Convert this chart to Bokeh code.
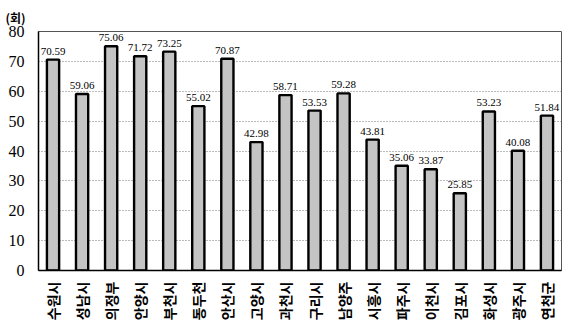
from bokeh.plotting import figure
from bokeh.models import ColumnDataSource, FixedTicker
from bokeh.core.properties import value
from bokeh.embed import file_html
from bokeh.resources import INLINE

cities = ["수원시", "성남시", "의정부", "안양시", "부천시", "동두천", "안산시", "고양시", "과천시",
          "구리시", "남양주", "시흥시", "파주시", "이천시", "김포시", "화성시", "광주시", "연천군"]
rates = [70.59, 59.06, 75.06, 71.72, 73.25, 55.02, 70.87, 42.98, 58.71,
         53.53, 59.28, 43.81, 35.06, 33.87, 25.85, 53.23, 40.08, 51.84]
y_ticks = [0, 10, 20, 30, 40, 50, 60, 70, 80]
unit_label = "(회)"

src = ColumnDataSource(dict(x=cities, top=rates, lab=[f"{v:.2f}" for v in rates]))

p = figure(x_range=cities, y_range=(0, 80), width=563, height=327,
           output_backend="svg", toolbar_location=None, title=unit_label,
           min_border_left=38, min_border_right=2, min_border_top=4, min_border_bottom=57)
p.x_range.range_padding = 0

p.title.align = "left"
p.title.offset = -33
p.title.text_font = "Noto Sans CJK KR"
p.title.text_font_size = "12px"
p.title.text_font_style = "bold"
p.title.text_color = "black"
p.title.standoff = 12

p.vbar(x="x", top="top", width=0.42, source=src, fill_color="#c4c4c4",
       line_color="black", line_width=2.4)
p.text(x="x", y="top", text="lab", source=src, text_align="center",
       text_baseline="bottom", y_offset=-5, text_font=value("Liberation Serif"),
       text_font_size="11px", text_color="black")

p.yaxis.ticker = FixedTicker(ticks=y_ticks)
p.yaxis.major_label_text_font = "Liberation Serif"
p.yaxis.major_label_text_font_size = "16px"
p.yaxis.major_label_text_color = "black"
p.yaxis.major_tick_line_color = None
p.yaxis.minor_tick_line_color = None
p.yaxis.major_label_standoff = 8
p.yaxis.axis_line_color = "black"
p.yaxis.axis_line_width = 1.5

p.xaxis.major_label_orientation = 1.5708
p.xaxis.major_label_text_font = "Noto Sans CJK KR"
p.xaxis.major_label_text_font_size = "14px"
p.xaxis.major_label_text_font_style = "bold"
p.xaxis.major_label_text_color = "black"
p.xaxis.major_tick_line_color = None
p.xaxis.major_label_standoff = 5
p.xaxis.axis_line_color = "black"
p.xaxis.axis_line_width = 1.5

p.xgrid.grid_line_color = None
p.ygrid.ticker = FixedTicker(ticks=y_ticks)
p.ygrid.grid_line_color = "#777777"
p.ygrid.grid_line_dash = "1 2"
p.ygrid.grid_line_width = 1

p.outline_line_color = "#555555"
p.outline_line_width = 1

open("out.html", "w").write(file_html(p, INLINE))
